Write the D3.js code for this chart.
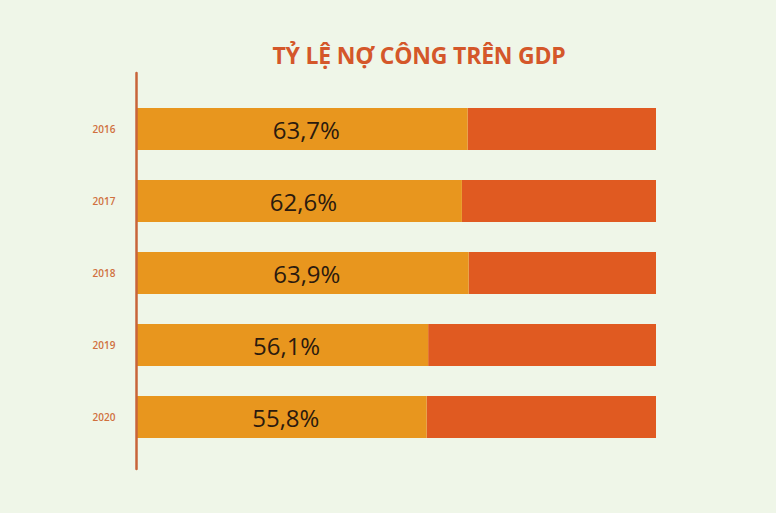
<!DOCTYPE html>
<html>
<head>
<meta charset="utf-8">
<script src="https://cdn.jsdelivr.net/npm/d3@7"></script>
<style>
  html, body { margin: 0; padding: 0; background: #eff6e8; }
  svg { display: block; }
</style>
</head>
<body>
<svg id="chart" width="776" height="513"></svg>
<script>
const title = "TỶ LỆ NỢ CÔNG TRÊN GDP";
const years = ["2016", "2017", "2018", "2019", "2020"];
const debtRatio = [63.7, 62.6, 63.9, 56.1, 55.8];
const labels = ["63,7%", "62,6%", "63,9%", "56,1%", "55,8%"];

const svg = d3.select("#chart");
const W = 776, H = 513;

svg.append("rect").attr("width", W).attr("height", H).attr("fill", "#eff6e8");

const x = d3.scaleLinear().domain([0, 100]).range([137, 656]);
const y = d3.scaleBand().domain(years).range([108, 438]).paddingInner(30 / 72).paddingOuter(0);

const data = years.map((yr, i) => ({ year: yr, value: debtRatio[i], label: labels[i] }));

// Title
svg.append("text")
  .attr("x", 419).attr("y", 64)
  .attr("text-anchor", "middle")
  .attr("font-family", "'Open Sans', 'Noto Sans', sans-serif")
  .attr("font-weight", 700)
  .attr("font-size", 23)
  .attr("letter-spacing", -0.2)
  .attr("fill", "#d4572a")
  .text(title);

// Remainder (red) bars
svg.selectAll("rect.rest").data(data).join("rect")
  .attr("class", "rest")
  .attr("x", d => x(d.value))
  .attr("y", d => y(d.year))
  .attr("width", d => x(100) - x(d.value))
  .attr("height", y.bandwidth())
  .attr("fill", "#e05a21");

// Debt (orange) bars
svg.selectAll("rect.debt").data(data).join("rect")
  .attr("class", "debt")
  .attr("x", x(0))
  .attr("y", d => y(d.year))
  .attr("width", d => x(d.value) - x(0))
  .attr("height", y.bandwidth())
  .attr("fill", "#e8961e");

// Value labels
svg.selectAll("text.val").data(data).join("text")
  .attr("class", "val")
  .attr("x", d => x(d.value / 2) + 4)
  .attr("y", d => y(d.year) + y.bandwidth() / 2 + 10)
  .attr("text-anchor", "middle")
  .attr("font-family", "'Open Sans', 'Noto Sans', sans-serif")
  .attr("font-size", 24)
  .attr("fill", "#2b1a0e")
  .text(d => d.label);

// Year labels
svg.selectAll("text.yr").data(data).join("text")
  .attr("class", "yr")
  .attr("x", 104)
  .attr("y", d => y(d.year) + y.bandwidth() / 2 + 4)
  .attr("text-anchor", "middle")
  .attr("font-family", "'Open Sans', 'Noto Sans', sans-serif")
  .attr("font-weight", 600)
  .attr("font-size", 10)
  .attr("fill", "#d0703e")
  .text(d => d.year);

// Vertical axis line
svg.append("line")
  .attr("x1", 136.5).attr("x2", 136.5)
  .attr("y1", y.range()[0] - 35).attr("y2", y.range()[1] + 31)
  .attr("stroke", "#c8643a")
  .attr("stroke-width", 2.5)
  .attr("stroke-linecap", "round");
</script>
</body>
</html>
